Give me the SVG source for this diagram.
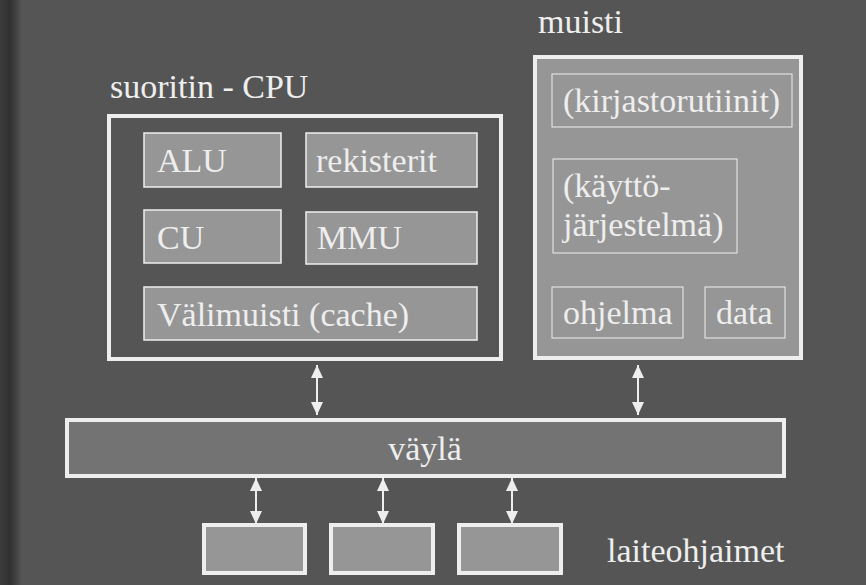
<svg xmlns="http://www.w3.org/2000/svg" width="866" height="585" viewBox="0 0 866 585">
<defs>
<linearGradient id="edge" x1="0" y1="0" x2="1" y2="0">
<stop offset="0" stop-color="#3c3c3c"/>
<stop offset="0.45" stop-color="#303030"/>
<stop offset="1" stop-color="#555555"/>
</linearGradient>
<marker id="ah" viewBox="0 0 13 12" refX="13" refY="6" markerWidth="13" markerHeight="12" markerUnits="userSpaceOnUse" orient="auto-start-reverse">
<path d="M0,0 L13,6 L0,12 Z" fill="#eeeeee"/>
</marker>
<style>
text{font-family:"Liberation Serif","Times New Roman",serif;font-size:34px;fill:#eeeeee}
.outer{fill:none;stroke:#eeeeee;stroke-width:4}
.mem{fill:#969696;stroke:#eeeeee;stroke-width:4}
.inner{fill:#969696;stroke:#eeeeee;stroke-width:1.5}
.minner{fill:#969696;stroke:#eeeeee;stroke-width:1}
.bus{fill:#737373;stroke:#eeeeee;stroke-width:4}
.dev{fill:#969696;stroke:#eeeeee;stroke-width:4}
.conn{stroke:#eeeeee;stroke-width:2;fill:none;marker-start:url(#ah);marker-end:url(#ah)}
</style>
</defs>
<rect width="866" height="585" fill="#555555"/>
<rect width="22" height="585" fill="url(#edge)"/>

<g id="cpu">
<text x="110" y="98">suoritin - CPU</text>
<rect class="outer" x="109" y="116" width="392" height="243"/>
</g>
<g id="alu"><rect class="inner" x="144" y="133" width="137" height="54"/><text x="157" y="172">ALU</text></g>
<g id="rekisterit"><rect class="inner" x="306" y="133" width="171" height="54"/><text x="316" y="172">rekisterit</text></g>
<g id="cu"><rect class="inner" x="144" y="210" width="137" height="53"/><text x="157" y="249">CU</text></g>
<g id="mmu"><rect class="inner" x="306" y="212" width="171" height="52"/><text x="317" y="249">MMU</text></g>
<g id="cache"><rect class="inner" x="144" y="287" width="333" height="53"/><text x="157" y="326">Välimuisti (cache)</text></g>

<g id="muisti">
<text x="538" y="33">muisti</text>
<rect class="mem" x="535" y="57" width="266" height="301"/>
</g>
<g id="kirjasto"><rect class="minner" x="552" y="74" width="240" height="53"/><text x="563" y="112">(kirjastorutiinit)</text></g>
<g id="kayttojarjestelma"><rect class="minner" x="553" y="159" width="184" height="94"/><text x="563" y="197">(käyttö-</text><text x="563" y="236">järjestelmä)</text></g>
<g id="ohjelma"><rect class="minner" x="552" y="287" width="131" height="51"/><text x="563" y="324">ohjelma</text></g>
<g id="data"><rect class="minner" x="705" y="287" width="80" height="51"/><text x="716" y="324">data</text></g>

<g id="vayla"><rect class="bus" x="67" y="420" width="717" height="56"/><text x="425" y="460" text-anchor="middle">väylä</text></g>

<g id="laite1"><rect class="dev" x="204" y="525" width="101" height="48"/></g>
<g id="laite2"><rect class="dev" x="331" y="525" width="102" height="48"/></g>
<g id="laite3"><rect class="dev" x="459" y="525" width="102" height="48"/></g>
<g id="laiteohjaimet-label"><text x="607" y="562">laiteohjaimet</text></g>

<g id="connectors">
<line class="conn" x1="317" y1="365" x2="317" y2="415"/>
<line class="conn" x1="638" y1="365" x2="638" y2="415"/>
<line class="conn" x1="256" y1="478" x2="256" y2="524"/>
<line class="conn" x1="383" y1="478" x2="383" y2="524"/>
<line class="conn" x1="512" y1="478" x2="512" y2="524"/>
</g>
</svg>
